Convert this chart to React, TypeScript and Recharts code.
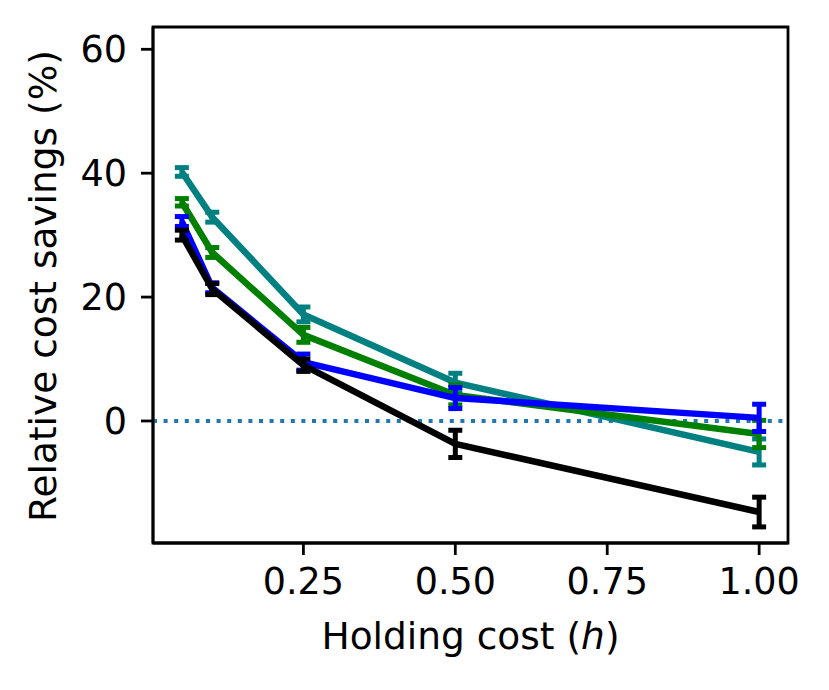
import { LineChart, Line, XAxis, YAxis, ErrorBar, ReferenceLine, ReferenceArea, Label } from 'recharts';

const FONT = '"DejaVu Sans", sans-serif';

const holdingCost = [0.05, 0.1, 0.25, 0.5, 1.0];

const tealSavings = [40.2, 32.9, 17.2, 6.2, -5.0];
const tealErr = [0.7, 0.8, 1.2, 1.5, 2.1];
const greenSavings = [35.3, 27.2, 13.9, 4.2, -2.1];
const greenErr = [0.6, 0.8, 1.2, 1.6, 2.2];
const blueSavings = [32.2, 21.5, 9.5, 3.7, 0.5];
const blueErr = [0.8, 0.8, 1.3, 1.7, 2.2];
const blackSavings = [30.0, 21.3, 9.0, -3.7, -14.7];
const blackErr = [0.8, 0.9, 1.0, 2.2, 2.4];

const xTicks = [0.25, 0.5, 0.75, 1.0];
const yTicks = [0, 20, 40, 60];

const X_DOMAIN: [number, number] = [0.0025, 1.0475];
const Y_DOMAIN: [number, number] = [-19.7, 63.6];

const data = holdingCost.map((h, i) => ({
  h,
  teal: tealSavings[i],
  tealErr: tealErr[i],
  green: greenSavings[i],
  greenErr: greenErr[i],
  blue: blueSavings[i],
  blueErr: blueErr[i],
  black: blackSavings[i],
  blackErr: blackErr[i],
}));

const series = [
  { key: 'teal', color: '#008080' },
  { key: 'green', color: '#008000' },
  { key: 'blue', color: '#0000ff' },
  { key: 'black', color: '#000000' },
];

const axisLine = { stroke: '#000', strokeWidth: 2.8 };
const tick = { fill: '#000', fontSize: 36.5, fontFamily: FONT };

const XLabel = () => (
  <text x={470.5} y={649} textAnchor="middle" fontSize={37.5} fontFamily={FONT} fill="#000">
    Holding cost (<tspan fontStyle="italic">h</tspan>)
  </text>
);

const YLabel = () => (
  <text
    x={56}
    y={286}
    transform="rotate(-90 56 286)"
    textAnchor="middle"
    fontSize={37.5}
    fontFamily={FONT}
    fill="#000"
  >
    Relative cost savings (%)
  </text>
);

export default function App() {
  return (
    <div style={{ position: 'absolute', left: 0, top: 0, background: '#fff' }}>
      <LineChart
        width={829}
        height={690}
        data={data}
        margin={{ top: 27, right: 41, bottom: 87, left: 0 }}
      >
        <XAxis
          dataKey="h"
          type="number"
          domain={X_DOMAIN}
          allowDataOverflow
          ticks={xTicks}
          tickFormatter={(v: number) => v.toFixed(2)}
          tick={tick}
          tickSize={12}
          tickMargin={13}
          tickLine={axisLine}
          axisLine={axisLine}
          height={60}
        >
          <Label content={XLabel} />
        </XAxis>
        <YAxis
          type="number"
          domain={Y_DOMAIN}
          allowDataOverflow
          ticks={yTicks}
          tick={tick}
          tickSize={12}
          tickMargin={14}
          tickLine={axisLine}
          axisLine={axisLine}
          width={153}
        >
          <Label content={YLabel} />
        </YAxis>
        <ReferenceArea
          x1={X_DOMAIN[0]}
          x2={X_DOMAIN[1]}
          y1={Y_DOMAIN[0]}
          y2={Y_DOMAIN[1]}
          fill="#fff"
          fillOpacity={0}
          stroke="#000"
          strokeWidth={2.8}
          ifOverflow="visible"
        />
        <ReferenceLine y={0} stroke="#1f77b4" strokeWidth={4} strokeDasharray="4 6.6" />
        {series.map((s) => (
          <Line
            key={s.key}
            type="linear"
            dataKey={s.key}
            stroke={s.color}
            strokeWidth={6.5}
            strokeLinejoin="round"
            dot={false}
            activeDot={false}
            isAnimationActive={false}
          >
            <ErrorBar dataKey={`${s.key}Err`} direction="y" width={7} strokeWidth={5} stroke={s.color} />
          </Line>
        ))}
      </LineChart>
    </div>
  );
}
